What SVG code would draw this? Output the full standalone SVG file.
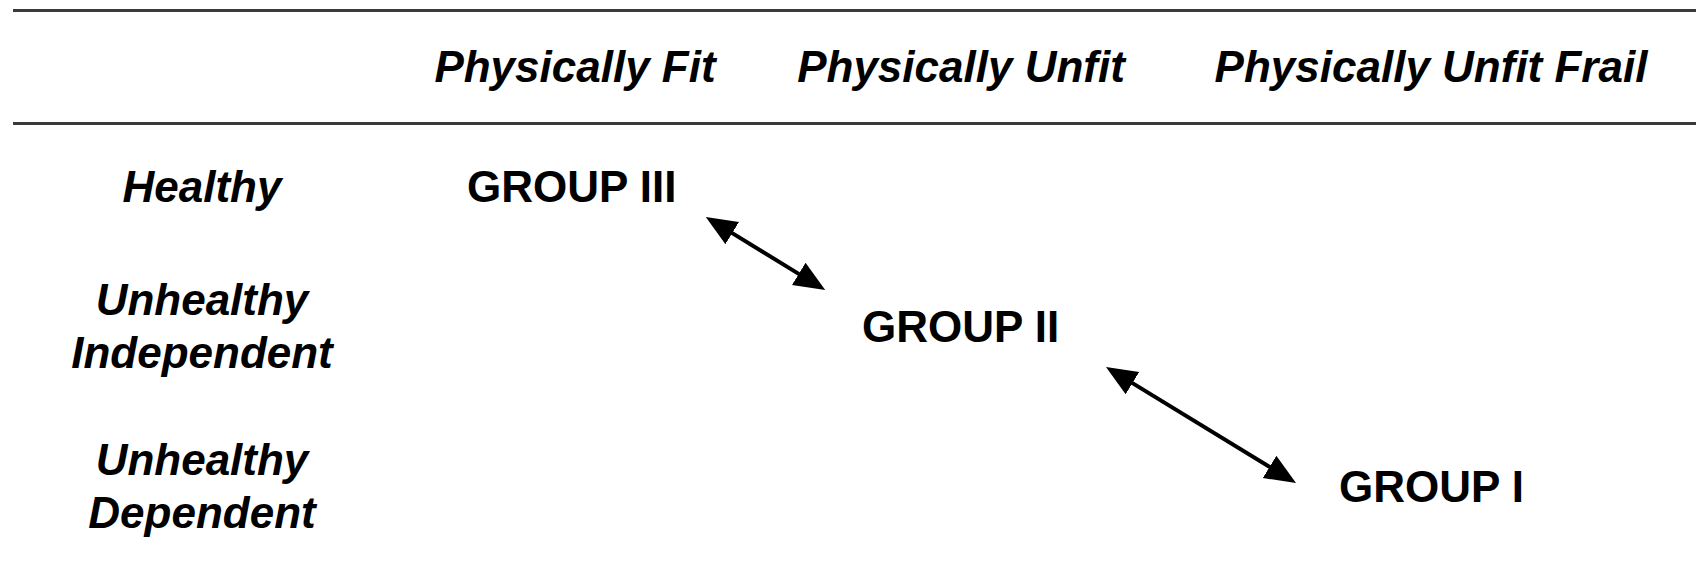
<svg xmlns="http://www.w3.org/2000/svg" width="1696" height="569" viewBox="0 0 1696 569">
  <style>
    .rule { stroke: #3a3a3a; stroke-width: 3; fill: none; }
    .head { font-family: "Liberation Sans", Arial, sans-serif; font-size: 44px; font-weight: bold; font-style: italic; fill: #000; text-anchor: middle; }
    .row { font-family: "Liberation Sans", Arial, sans-serif; font-size: 44px; font-weight: bold; font-style: italic; fill: #000; text-anchor: middle; }
    .grp { font-family: "Liberation Sans", Arial, sans-serif; font-size: 44px; font-weight: bold; fill: #000; }
    .link { stroke: #000; stroke-width: 4; fill: none; }
  </style>
  <defs>
    <marker id="tip" viewBox="0 -14 32 28" refX="10" refY="0" markerWidth="32" markerHeight="28" markerUnits="userSpaceOnUse" orient="auto-start-reverse">
      <path d="M0,-13 L31,0 L0,13 z" fill="#000"/>
    </marker>
  </defs>
  <rect width="1696" height="569" fill="#fff"/>

  <!-- table rules -->
  <g id="rules">
    <line class="rule" x1="13" y1="10.5" x2="1696" y2="10.5"/>
    <line class="rule" x1="13" y1="123.5" x2="1696" y2="123.5"/>
  </g>

  <!-- column headings -->
  <g id="columns">
    <text class="head" x="575" y="82">Physically Fit</text>
    <text class="head" x="961" y="82">Physically Unfit</text>
    <text class="head" x="1431" y="82">Physically Unfit Frail</text>
  </g>

  <!-- row headings -->
  <g id="rows">
    <text class="row" x="202" y="202">Healthy</text>
    <text class="row" x="202" y="315">Unhealthy</text>
    <text class="row" x="202" y="368">Independent</text>
    <text class="row" x="202" y="475">Unhealthy</text>
    <text class="row" x="202" y="528">Dependent</text>
  </g>

  <g id="group3"><text class="grp" x="467" y="202">GROUP III</text></g>
  <g id="group2"><text class="grp" x="862" y="342">GROUP II</text></g>
  <g id="group1"><text class="grp" x="1339" y="502">GROUP I</text></g>

  <!-- two-way transitions between groups -->
  <g id="connectors">
    <line class="link" x1="723.7" y1="227.9" x2="807.3" y2="279.1" marker-start="url(#tip)" marker-end="url(#tip)"/>
    <line class="link" x1="1123.9" y1="377.9" x2="1278.1" y2="472.1" marker-start="url(#tip)" marker-end="url(#tip)"/>
  </g>
</svg>
